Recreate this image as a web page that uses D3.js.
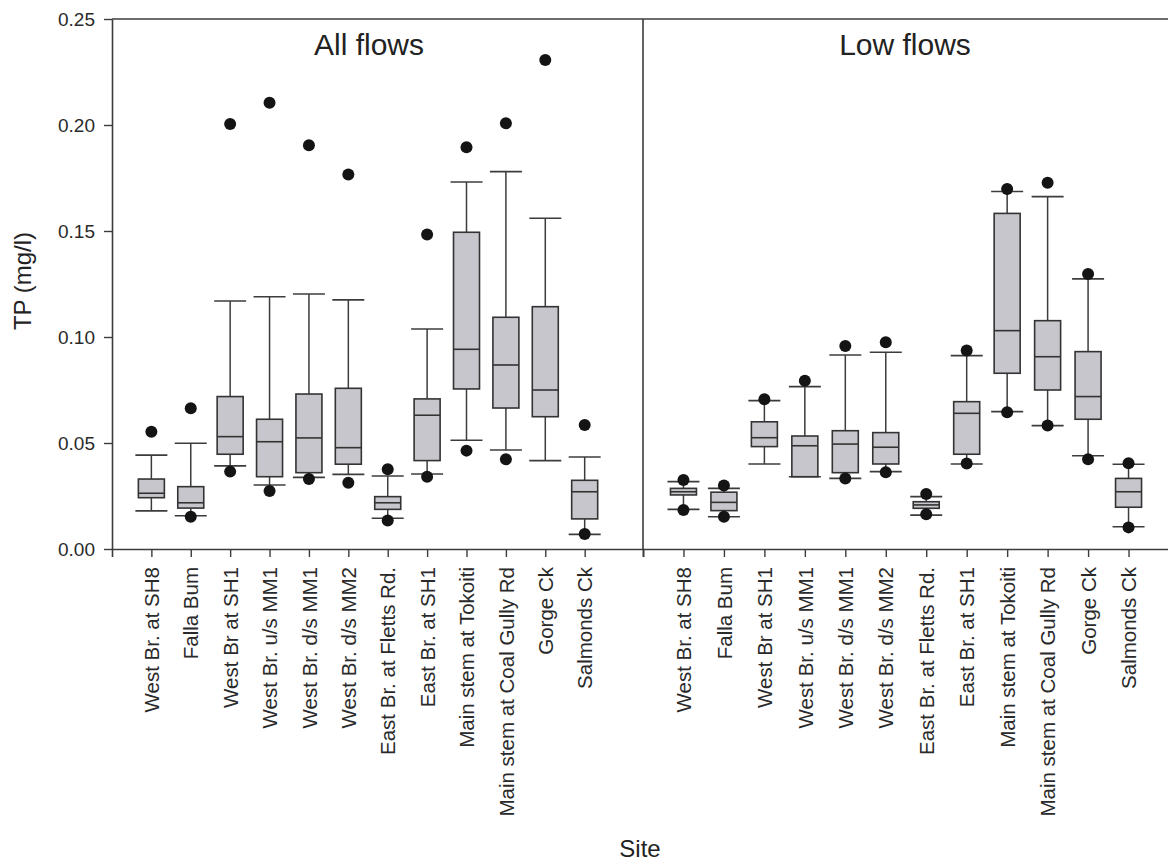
<!DOCTYPE html>
<html>
<head>
<meta charset="utf-8">
<script src="https://cdn.jsdelivr.net/npm/d3@7"></script>
<style>
  html, body { margin: 0; padding: 0; background: #fff; }
  svg { display: block; font-family: "Liberation Sans", Arial, sans-serif; }
</style>
</head>
<body>
<svg id="chart" width="1168" height="863"></svg>
<script>
// Sampling sites along the catchment (same order in both panels)
const sites = [
  "West Br. at SH8", "Falla Bum", "West Br at SH1", "West Br. u/s MM1",
  "West Br. d/s MM1", "West Br. d/s MM2", "East Br. at Fletts Rd.", "East Br. at SH1",
  "Main stem at Tokoiti", "Main stem at Coal Gully Rd", "Gorge Ck", "Salmonds Ck"
];

const yTicks = [0, 0.05, 0.10, 0.15, 0.20, 0.25];

// All flows: whisker ends, quartiles, median and outlying points (TP, mg/l)
const allWhiskerLow  = [0.0180, 0.0157, 0.0392, 0.0302, 0.0338, 0.0352, 0.0145, 0.0354, 0.0513, 0.0467, 0.0417, 0.0069];
const allQ1          = [0.0242, 0.0193, 0.0447, 0.0341, 0.0360, 0.0400, 0.0187, 0.0417, 0.0755, 0.0665, 0.0624, 0.0142];
const allMedian      = [0.0263, 0.0218, 0.0530, 0.0506, 0.0524, 0.0478, 0.0218, 0.0631, 0.0942, 0.0868, 0.0750, 0.0270];
const allQ3          = [0.0330, 0.0294, 0.0719, 0.0612, 0.0731, 0.0758, 0.0247, 0.0708, 0.1494, 0.1093, 0.1143, 0.0324];
const allWhiskerHigh = [0.0443, 0.0499, 0.1170, 0.1190, 0.1203, 0.1175, 0.0344, 0.1038, 0.1731, 0.1780, 0.1560, 0.0434];
const allOutliers    = [
  [0.0553], [0.0152, 0.0664], [0.0365, 0.2005], [0.0274, 0.2105],
  [0.0330, 0.1904], [0.0313, 0.1767], [0.0134, 0.0376], [0.0341, 0.1484],
  [0.0464, 0.1895], [0.0423, 0.2008], [0.2307], [0.0071, 0.0585]
];

// Low flows
const lowWhiskerLow  = [0.0187, 0.0152, 0.0401, 0.0341, 0.0333, 0.0365, 0.0160, 0.0401, 0.0648, 0.0582, 0.0440, 0.0105];
const lowQ1          = [0.0255, 0.0181, 0.0483, 0.0341, 0.0360, 0.0401, 0.0192, 0.0447, 0.0829, 0.0750, 0.0612, 0.0197];
const lowMedian      = [0.0270, 0.0220, 0.0525, 0.0487, 0.0495, 0.0480, 0.0208, 0.0640, 0.1030, 0.0907, 0.0719, 0.0270];
const lowQ3          = [0.0286, 0.0268, 0.0600, 0.0533, 0.0558, 0.0549, 0.0223, 0.0695, 0.1583, 0.1077, 0.0931, 0.0333];
const lowWhiskerHigh = [0.0318, 0.0286, 0.0700, 0.0766, 0.0915, 0.0928, 0.0247, 0.0912, 0.1686, 0.1662, 0.1274, 0.0400];
const lowOutliers    = [
  [0.0184, 0.0325], [0.0152, 0.0299], [0.0706], [0.0794],
  [0.0333, 0.0958], [0.0362, 0.0975], [0.0164, 0.0259], [0.0403, 0.0936],
  [0.0645, 0.1698], [0.0582, 0.1728], [0.0423, 0.1297], [0.0102, 0.0404]
];

const svg = d3.select("#chart");
const W = 1168;
const plotLeft = 112, plotTop = 19, plotBottom = 549, divider = 643;
const lineColor = "#3c3c3c";
const boxFill = "#c6c6cc";
const boxW = 26, capW = 32, dotR = 6;

const y = d3.scaleLinear().domain([0, 0.25]).range([plotBottom, plotTop]);

function panelTable(wl, q1, med, q3, wh, out) {
  return sites.map((s, i) => ({ site: s, wl: wl[i], q1: q1[i], med: med[i], q3: q3[i], wh: wh[i], out: out[i] }));
}

const panels = [
  { title: "All flows", titleX: 369, range: [plotLeft, divider], padding: 1.24, align: 0.403,
    rows: panelTable(allWhiskerLow, allQ1, allMedian, allQ3, allWhiskerHigh, allOutliers) },
  { title: "Low flows", titleX: 905, range: [divider, W + 1], padding: 1.0, align: 0.5,
    rows: panelTable(lowWhiskerLow, lowQ1, lowMedian, lowQ3, lowWhiskerHigh, lowOutliers) }
];

// Top frame line and panel divider
svg.append("line")
  .attr("x1", plotLeft).attr("x2", W + 2).attr("y1", plotTop).attr("y2", plotTop)
  .attr("stroke", lineColor).attr("stroke-width", 1.6);
svg.append("line")
  .attr("x1", divider).attr("x2", divider).attr("y1", plotTop).attr("y2", plotBottom)
  .attr("stroke", lineColor).attr("stroke-width", 1.6);

// Y axis
const yAxis = svg.append("g")
  .attr("transform", `translate(${plotLeft},0)`)
  .call(d3.axisLeft(y).tickValues(yTicks).tickFormat(d3.format(".2f")).tickSize(8).tickSizeOuter(0).tickPadding(9));
yAxis.select(".domain").attr("stroke", lineColor).attr("stroke-width", 1.6);
yAxis.selectAll(".tick line").attr("stroke", lineColor).attr("stroke-width", 1.4);
yAxis.selectAll(".tick text").attr("fill", "#2a2a2a").style("font-size", "19px");

panels.forEach(p => {
  const x = d3.scalePoint().domain(sites).range(p.range).padding(p.padding).align(p.align);

  // X axis with rotated site names
  const xAxis = svg.append("g")
    .attr("transform", `translate(0,${plotBottom})`)
    .call(d3.axisBottom(x).tickSize(8).tickSizeOuter(8));
  xAxis.select(".domain").attr("stroke", lineColor).attr("stroke-width", 1.6);
  xAxis.selectAll(".tick line").attr("stroke", lineColor).attr("stroke-width", 1.4);
  xAxis.selectAll(".tick text")
    .attr("fill", "#2a2a2a")
    .style("font-size", "20.5px")
    .attr("transform", "rotate(-90)")
    .attr("x", -18).attr("y", 0).attr("dy", "0.35em")
    .style("text-anchor", "end");

  const g = svg.append("g");
  const box = g.selectAll("g.box").data(p.rows).join("g")
    .attr("class", "box")
    .attr("transform", d => `translate(${x(d.site)},0)`);

  // whiskers
  box.append("line").attr("x1", 0).attr("x2", 0)
    .attr("y1", d => y(d.wl)).attr("y2", d => y(d.q1))
    .attr("stroke", lineColor).attr("stroke-width", 1.5);
  box.append("line").attr("x1", 0).attr("x2", 0)
    .attr("y1", d => y(d.q3)).attr("y2", d => y(d.wh))
    .attr("stroke", lineColor).attr("stroke-width", 1.5);
  // caps
  box.append("line").attr("x1", -capW / 2).attr("x2", capW / 2)
    .attr("y1", d => y(d.wl)).attr("y2", d => y(d.wl))
    .attr("stroke", lineColor).attr("stroke-width", 1.6);
  box.append("line").attr("x1", -capW / 2).attr("x2", capW / 2)
    .attr("y1", d => y(d.wh)).attr("y2", d => y(d.wh))
    .attr("stroke", lineColor).attr("stroke-width", 1.6);
  // interquartile box
  box.append("rect")
    .attr("x", -boxW / 2).attr("width", boxW)
    .attr("y", d => y(d.q3)).attr("height", d => Math.max(1, y(d.q1) - y(d.q3)))
    .attr("fill", boxFill).attr("stroke", "#333").attr("stroke-width", 1.6);
  // median
  box.append("line").attr("x1", -boxW / 2).attr("x2", boxW / 2)
    .attr("y1", d => y(d.med)).attr("y2", d => y(d.med))
    .attr("stroke", "#333").attr("stroke-width", 1.6);
  // outlying points
  box.selectAll("circle").data(d => d.out).join("circle")
    .attr("cx", 0).attr("cy", v => y(v)).attr("r", dotR)
    .attr("fill", "#141414");

  // panel title
  svg.append("text")
    .attr("x", p.titleX).attr("y", 55)
    .attr("text-anchor", "middle")
    .attr("fill", "#222")
    .style("font-size", "30px")
    .text(p.title);
});

// Axis titles
svg.append("text")
  .attr("transform", "translate(31,281) rotate(-90)")
  .attr("text-anchor", "middle")
  .attr("fill", "#222")
  .style("font-size", "24px")
  .text("TP (mg/l)");

svg.append("text")
  .attr("x", 640).attr("y", 857)
  .attr("text-anchor", "middle")
  .attr("fill", "#222")
  .style("font-size", "24px")
  .text("Site");
</script>
</body>
</html>
